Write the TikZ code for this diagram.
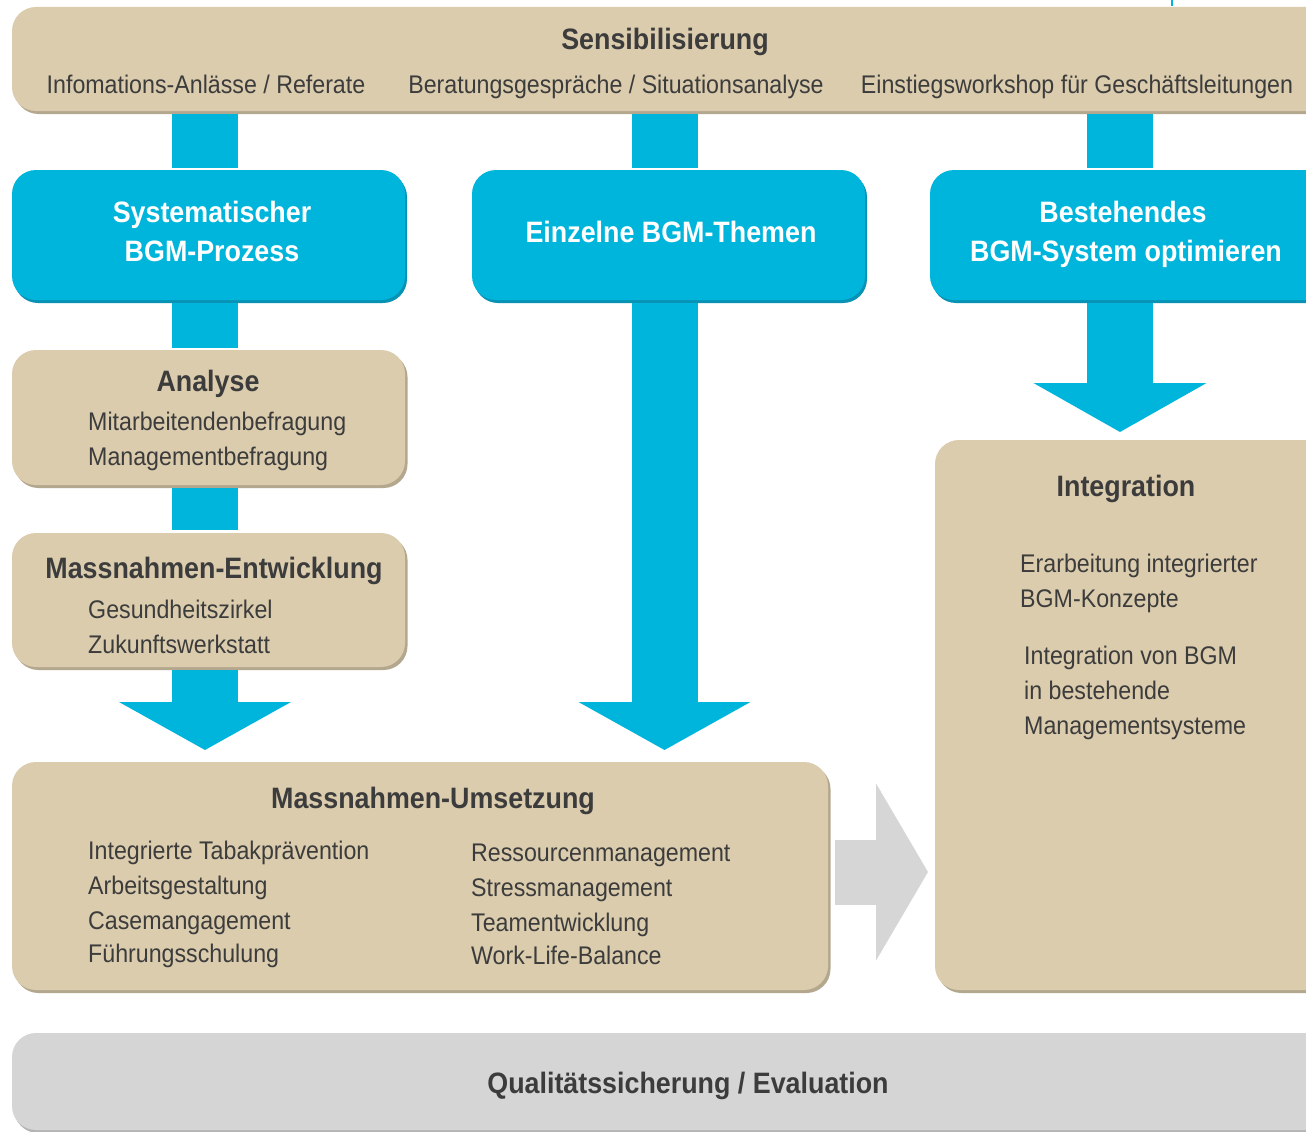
\documentclass[tikz,border=0pt]{standalone}
\usepackage{fontspec}
\setmainfont[FakeStretch=0.91]{Liberation Sans}
\usetikzlibrary{arrows.meta,shadows}
\definecolor{tanc}{HTML}{DBCCAD}
\definecolor{tansh}{HTML}{B3A78E}
\definecolor{bluec}{HTML}{00B5DC}
\definecolor{bluesh}{HTML}{0892B4}
\definecolor{greyc}{HTML}{D5D5D5}
\definecolor{greysh}{HTML}{B4B4B4}
\definecolor{arrowgrey}{HTML}{D6D6D6}
\definecolor{txt}{HTML}{3C3C3C}
\tikzset{
  box/.style={inner sep=0pt, outer sep=0pt, anchor=north west, rounded corners=24pt},
  tanbox/.style={box, fill=tanc, drop shadow={shadow xshift=2.5pt, shadow yshift=-3pt, fill=tansh, opacity=1}},
  bluebox/.style={box, fill=bluec, drop shadow={shadow xshift=2pt, shadow yshift=-3pt, fill=bluesh, opacity=1}},
  greybox/.style={box, fill=greyc, drop shadow={shadow xshift=2pt, shadow yshift=-3pt, fill=greysh, opacity=1}},
  bar/.style={draw=bluec, line width=66pt},
  grarrow/.style={draw=arrowgrey, line width=65pt},
  ttl/.style={font=\bfseries\fontsize{29.5}{32}\selectfont, text=txt, anchor=base, inner sep=0pt},
  wttl/.style={font=\bfseries\fontsize{29.5}{32}\selectfont, text=white, anchor=base, inner sep=0pt},
  itm/.style={font=\fontsize{25.5}{28}\selectfont, text=txt, anchor=base west, inner sep=0pt},
  citm/.style={itm, anchor=base},
}
\begin{document}
\begin{tikzpicture}[x=1pt,y=-1pt]
\useasboundingbox (0,0) rectangle (1306,1132);
\clip (0,0) rectangle (1306,1132);
\fill[white] (0,0) rectangle (1306,1132);
\draw[bluec, line width=2pt] (1172,0) -- (1172,6);

% boxes
\node[tanbox, minimum width=1330pt, minimum height=104pt] (sens) at (12,7) {};
\node[bluebox, minimum width=393pt, minimum height=130pt] (sys) at (12,170) {};
\node[bluebox, minimum width=393pt, minimum height=130pt] (einz) at (472,170) {};
\node[bluebox, minimum width=410pt, minimum height=130pt] (best) at (930,170) {};
\node[tanbox, minimum width=393pt, minimum height=135pt] (ana) at (12,350) {};
\node[tanbox, minimum width=393pt, minimum height=134pt] (ent) at (12,533) {};
\node[tanbox, minimum width=816pt, minimum height=228pt] (ums) at (12,762) {};
\node[tanbox, minimum width=410pt, minimum height=550pt] (integ) at (935,440) {};
\node[greybox, minimum width=1330pt, minimum height=97pt] (qual) at (12,1033) {};

% bar positions
\coordinate (cL) at (205,0);
\coordinate (cM) at (664.5,0);
\coordinate (cR) at (1120,0);

% connectors
\draw[bar] ([yshift=-3pt]sens.south -| cL) -- ([yshift=2pt]sys.north -| cL);
\draw[bar] ([yshift=-3pt]sens.south -| cM) -- ([yshift=2pt]einz.north -| cM);
\draw[bar] ([yshift=-3pt]sens.south -| cR) -- ([yshift=2pt]best.north -| cR);
\draw[bar] ([yshift=-3pt]sys.south -| cL) -- ([yshift=2pt]ana.north -| cL);
\draw[bar] ([yshift=-3pt]ana.south -| cL) -- ([yshift=3pt]ent.north -| cL);
\draw[bar, -{Triangle[width=170pt,length=48pt]}] ([yshift=-3pt]ent.south -| cL) -- ([yshift=12pt]ums.north -| cL);
\draw[bar, -{Triangle[width=170pt,length=48pt]}] ([yshift=-3pt]einz.south -| cM) -- ([yshift=12pt]ums.north -| cM);
\draw[bar, -{Triangle[width=171pt,length=49pt]}] ([yshift=-3pt]best.south -| cR) -- ([yshift=8pt]integ.north -| cR);
\coordinate (gy) at (0,872);
\draw[grarrow, -{Triangle[width=175pt,length=52pt]}] ([xshift=7pt]ums.east |- gy) -- ([xshift=-7pt]integ.west |- gy);

% texts
\node[ttl] (t1) at (665,50) {Sensibilisierung};
\node[citm] (s1) at (206,93) {Infomations-Anlässe / Referate};
\node[citm] (s2) at (616,93) {Beratungsgespräche / Situationsanalyse};
\node[citm] (s3) at (1077,93) {Einstiegsworkshop für Geschäftsleitungen};

\node[wttl] (b1a) at (212,222) {Systematischer};
\node[wttl] (b1b) at (212,261) {BGM-Prozess};
\node[wttl] (b2) at (671,242) {Einzelne BGM-Themen};
\node[wttl] (b3a) at (1123,222) {Bestehendes};
\node[wttl] (b3b) at (1126,261) {BGM-System optimieren};

\node[ttl] (t2) at (208,391) {Analyse};
\node[itm] (a1) at (88,430) {Mitarbeitendenbefragung};
\node[itm] (a2) at (88,465) {Managementbefragung};

\node[ttl] (t3) at (214,578) {Massnahmen-Entwicklung};
\node[itm] (e1) at (88,618) {Gesundheitszirkel};
\node[itm] (e2) at (88,653) {Zukunftswerkstatt};

\node[ttl] (t4) at (433,808) {Massnahmen-Umsetzung};
\node[itm] (u1) at (88,859) {Integrierte Tabakprävention};
\node[itm] (u2) at (88,894) {Arbeitsgestaltung};
\node[itm] (u3) at (88,929) {Casemangagement};
\node[itm] (u4) at (88,962) {Führungsschulung};
\node[itm] (u5) at (471,861) {Ressourcenmanagement};
\node[itm] (u6) at (471,896) {Stressmanagement};
\node[itm] (u7) at (471,931) {Teamentwicklung};
\node[itm] (u8) at (471,964) {Work-Life-Balance};

\node[ttl] (t5) at (1126,496) {Integration};
\node[itm] (i1) at (1020,572) {Erarbeitung integrierter};
\node[itm] (i2) at (1020,607) {BGM-Konzepte};
\node[itm] (i3) at (1024,664) {Integration von BGM};
\node[itm] (i4) at (1024,699) {in bestehende};
\node[itm] (i5) at (1024,734) {Managementsysteme};

\node[ttl] (t6) at (688,1093) {Qualitätssicherung / Evaluation};
\end{tikzpicture}
\end{document}
